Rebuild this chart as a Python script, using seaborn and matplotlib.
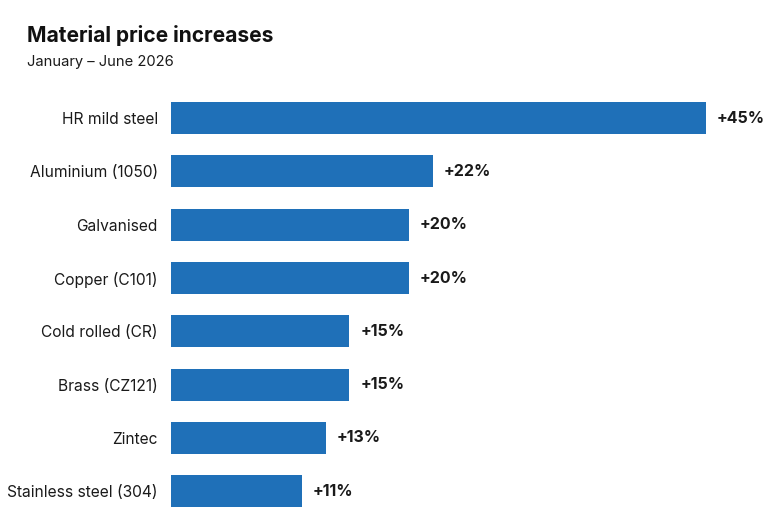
import matplotlib
matplotlib.use("Agg")
import matplotlib.pyplot as plt
import seaborn as sns
import pandas as pd

categories = ["HR mild steel", "Aluminium (1050)", "Galvanised", "Copper (C101)",
              "Cold rolled (CR)", "Brass (CZ121)", "Zintec", "Stainless steel (304)"]
increases = [45, 22, 20, 20, 15, 15, 13, 11]
value_labels = ["+45%", "+22%", "+20%", "+20%", "+15%", "+15%", "+13%", "+11%"]

sns.set_theme(style="white")
plt.rcParams['font.family'] = ['Inter', 'DejaVu Sans']

df = pd.DataFrame({"material": categories, "increase": increases})

fig = plt.figure(figsize=(7.68, 5.12), dpi=100)
ax = fig.add_axes([171/768, 0, 597/768, 421/512])
sns.barplot(data=df, x="increase", y="material", color="#1f70b8", width=0.6,
            saturation=1, linewidth=0, ax=ax, orient="h")
ax.set_xlim(0, 45 * 597 / 535)
ax.set_ylim(7.39, -0.51)
for s in ax.spines.values():
    s.set_visible(False)
ax.set_xticks([])
ax.set_xlabel("")
ax.set_ylabel("")
ax.tick_params(axis="y", length=0, pad=9.5, labelsize=11.2, labelcolor="#1a1a1a")

for i, (v, lab) in enumerate(zip(increases, value_labels)):
    ax.annotate(lab, xy=(v, i), xytext=(8, 0), textcoords="offset points",
                va="center", ha="left", fontsize=11.5, fontweight="bold", color="#1a1a1a")

fig.text(27/768, 1 - 35/512, "Material price increases", fontsize=15.1, fontweight="bold",
         color="#111111", va="center", ha="left")
fig.text(27/768, 1 - 62/512, "January – June 2026", fontsize=10.6, color="#1a1a1a",
         va="center", ha="left")

fig.savefig("out.png", dpi=100)
